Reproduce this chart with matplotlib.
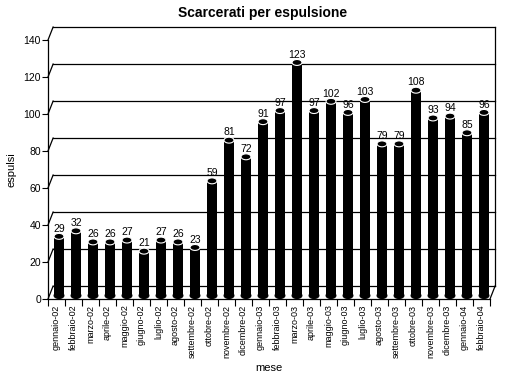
import matplotlib
matplotlib.use("Agg")
import matplotlib.pyplot as plt
import matplotlib.transforms as mtransforms
from matplotlib.patches import Ellipse

plt.rcParams['font.family'] = ['Liberation Sans', 'DejaVu Sans']

mesi = ["gennaio-02", "febbraio-02", "marzo-02", "aprile-02", "maggio-02",
        "giugno-02", "luglio-02", "agosto-02", "settembre-02", "ottobre-02",
        "novembre-02", "dicembre-02", "gennaio-03", "febbraio-03", "marzo-03",
        "aprile-03", "maggio-03", "giugno-03", "luglio-03", "agosto-03",
        "settembre-03", "ottobre-03", "novembre-03", "dicembre-03",
        "gennaio-04", "febbraio-04"]
espulsi = [29, 32, 26, 26, 27, 21, 27, 26, 23, 59, 81, 72, 91, 97, 123,
           97, 102, 96, 103, 79, 79, 108, 93, 94, 85, 96]
y_ticks = [0, 20, 40, 60, 80, 100, 120, 140]

fig = plt.figure(figsize=(5.1, 3.79), dpi=100)
ax = fig.add_axes([48 / 510, 80 / 379, 442 / 510, 259 / 379])
ax.set_xlim(-0.5, len(mesi) - 0.5)
ax.set_ylim(0, 140)

# depth offsets (pixels -> inches at dpi 100)
back = ax.transData + mtransforms.ScaledTranslation(0.05, 0.13, fig.dpi_scale_trans)
mid = ax.transData + mtransforms.ScaledTranslation(0.025, 0.09, fig.dpi_scale_trans)

n = len(mesi)
x0, x1 = -0.5, n - 0.5
# back wall gridlines and slashes
for t in y_ticks:
    ax.plot([x0, x1], [t, t], color='black', lw=0.9, transform=back, clip_on=False)
    ax.plot([x0, x0 + 0.3], [t, t + 7], color='black', lw=0.9, clip_on=False)
ax.plot([x1, x1], [0, 140], color='black', lw=0.9, transform=back, clip_on=False)
# floor
ax.plot([x0, x1], [0, 0], color='black', lw=0.9, clip_on=False)
ax.plot([x1, x1 + 0.3], [0, 7], color='black', lw=0.9, clip_on=False)

w = 0.58
xs = list(range(n))
base = -3
ax.bar(xs, [v - base for v in espulsi], bottom=base, width=w, color='black',
       transform=mid, zorder=3)
for x, v in zip(xs, espulsi):
    ax.add_patch(Ellipse((x, v), w, 3.2, facecolor='black', edgecolor='white',
                         lw=0.8, transform=mid, zorder=4))
    ax.add_patch(Ellipse((x, base), w, 3.2, facecolor='black', edgecolor='black',
                         lw=0.8, transform=mid, zorder=2))
    ax.text(x, v + 1.5, str(v), ha='center', va='bottom', fontsize=7.5,
            transform=mid, zorder=5)

for s in ['top', 'right', 'bottom']:
    ax.spines[s].set_visible(False)
ax.spines['left'].set_linewidth(0.9)

ax.set_yticks(y_ticks)
ax.tick_params(axis='y', labelsize=7.5, length=4, width=0.8, pad=1)
ax.set_xticks([i - 0.5 for i in range(n + 1)], minor=False)
ax.set_xticklabels([])
ax.tick_params(axis='x', length=5, width=0.8)
ax.set_xticks(xs, minor=True)
ax.set_xticklabels(mesi, minor=True, rotation=90, fontsize=6.5)
ax.tick_params(axis='x', which='minor', length=0, pad=4)

ax.set_ylabel('espulsi', fontsize=8, labelpad=5)
ax.set_xlabel('mese', fontsize=8, labelpad=4)
fig.text(0.515, 0.965, 'Scarcerati per espulsione', ha='center', va='center',
         fontsize=10, fontweight='bold')

fig.savefig('out.png', dpi=100)
